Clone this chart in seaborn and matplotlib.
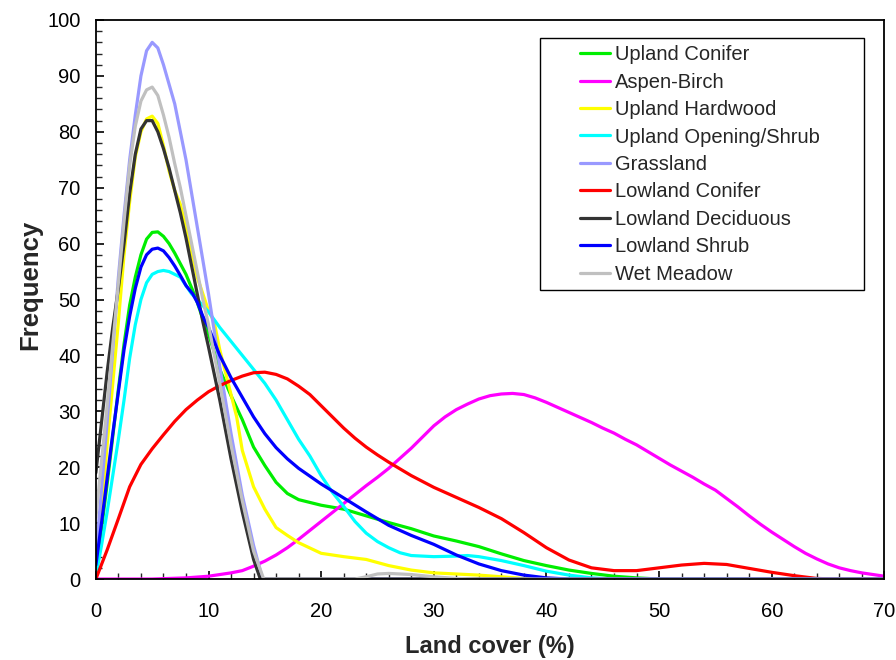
import numpy as np
import pandas as pd
import seaborn as sns
import matplotlib.pyplot as plt
from matplotlib.patches import Rectangle
from matplotlib.ticker import MultipleLocator

# Series (x = land cover %, y = frequency)
upland_conifer_x = [0, 0.5, 1, 1.5, 2, 2.5, 3, 3.5, 4, 4.5, 5, 5.5, 6, 6.5, 7, 8, 8.6, 9, 9.5, 10, 11, 12, 13, 14, 15, 16, 17, 18,
                    20, 22, 24, 26, 28, 30, 32, 34, 36, 38, 40, 42, 44, 46, 48, 50, 52, 70]
upland_conifer_y = [1, 9, 17, 25.5, 34, 42, 49, 54, 58, 60.8, 62, 62.1, 61.3, 60, 58.3, 54.5, 51.6, 49.5, 46.5, 43.8, 37.5, 32.8, 28.5, 23.6, 20.3, 17.3, 15.3, 14.2,
                    13.2, 12.5, 11.3, 10.1, 9, 7.7, 6.8, 5.8, 4.5, 3.3, 2.4, 1.6, 1.0, 0.5, 0.2, 0, 0, 0]

aspen_birch_x = [0, 5, 8, 10, 12, 13, 14, 15, 16, 17, 18, 19, 20, 21, 22, 23, 24, 25, 26, 27, 28, 29, 30, 31, 32, 33, 34, 35,
                 36, 37, 38, 39, 40, 41, 42, 43, 44, 45, 46, 47, 48, 49, 50, 51, 52, 53, 54, 55, 56, 57, 58, 59, 60, 61,
                 62, 63, 64, 65, 66, 67, 68, 69, 70]
aspen_birch_y = [0, 0, 0.2, 0.5, 1.1, 1.5, 2.3, 3.2, 4.3, 5.6, 7.1, 8.7, 10.3, 11.9, 13.5, 15.1, 16.7, 18.2, 19.8, 21.6, 23.4, 25.4, 27.4, 29, 30.3, 31.3, 32.2, 32.8,
                 33.1, 33.2, 33, 32.4, 31.6, 30.7, 29.8, 28.9, 28, 27, 26.1, 25, 24, 22.8, 21.6, 20.4, 19.3, 18.2, 17.0, 15.9, 14.4, 12.9, 11.3, 9.8, 8.4, 7.1,
                 5.8, 4.6, 3.6, 2.7, 2.0, 1.5, 1.1, 0.8, 0.5]

upland_hardwood_x = [0, 0.5, 1, 1.5, 2, 2.5, 3, 3.5, 4, 4.5, 5, 5.5, 6, 6.5, 7, 7.5, 8, 8.5, 9, 9.5, 10, 10.5, 11, 11.5, 12, 12.5, 13, 14,
                     15, 16, 17, 18, 20, 22, 24, 26, 28, 30, 32, 34, 36, 38, 40, 70]
upland_hardwood_y = [2, 12, 24, 35, 46, 58, 67.5, 75.5, 80, 82.3, 82.8, 81.5, 77.5, 73, 69.5, 67, 63, 58.5, 54, 51, 48, 46, 41, 37, 33, 29, 23, 16.5,
                     12.5, 9.2, 7.8, 6.5, 4.6, 4.0, 3.5, 2.4, 1.6, 1.1, 0.9, 0.7, 0.4, 0.1, 0, 0]

upland_opening_x = [0, 0.5, 1, 1.5, 2, 2.5, 3, 3.5, 4, 4.5, 5, 5.5, 6, 6.5, 7, 7.5, 8, 8.5, 9, 10, 11, 12, 13, 14, 15, 16, 17, 18,
                    19, 20, 21, 22, 23, 24, 25, 26, 27, 28, 30, 32, 33, 34, 36, 38, 40, 42, 44, 46, 70]
upland_opening_y = [0.5, 6, 12, 18.5, 25, 32, 39.5, 45.5, 50, 53, 54.5, 55, 55.2, 55, 54.5, 54, 52.5, 51, 50, 47.8, 45, 42.5, 40, 37.5, 35, 32, 28.5, 25,
                    22, 18.5, 15.5, 13, 10.3, 8.2, 6.7, 5.6, 4.7, 4.2, 4.0, 4.1, 4.2, 4.0, 3.3, 2.4, 1.4, 0.7, 0.2, 0, 0]

grassland_x = [0, 0.5, 1, 1.5, 2, 2.5, 3, 3.5, 4, 4.5, 5, 5.5, 6, 6.5, 7, 7.5, 8, 8.5, 9, 9.5, 10, 11, 12, 13, 14, 14.8, 70]
grassland_y = [4, 16, 28, 41, 54, 65, 75, 83, 90, 94.5, 96, 95, 92, 88.5, 85, 80, 75, 69, 63, 57, 51, 38, 26, 15, 6, 0, 0]

lowland_conifer_x = [0, 1, 2, 3, 4, 5, 6, 7, 8, 9, 10, 11, 12, 13, 14, 15, 16, 17, 18, 19, 20, 21, 22, 23, 24, 25, 26, 28,
                     30, 32, 34, 36, 38, 40, 42, 44, 46, 48, 50, 52, 54, 56, 58, 60, 62, 64, 66, 70]
lowland_conifer_y = [0, 5.2, 10.8, 16.5, 20.5, 23.3, 25.8, 28.2, 30.3, 32, 33.5, 34.6, 35.5, 36.3, 36.9, 37, 36.6, 35.8, 34.5, 33, 31, 29, 27, 25.2, 23.6, 22.2, 20.9, 18.5,
                     16.4, 14.6, 12.8, 10.8, 8.3, 5.6, 3.4, 2.0, 1.5, 1.5, 2.0, 2.5, 2.8, 2.6, 1.9, 1.2, 0.6, 0.1, 0, 0]

lowland_deciduous_x = [0, 0.5, 1, 1.5, 2, 2.5, 3, 3.5, 4, 4.5, 5, 5.5, 6, 6.5, 7, 7.5, 8, 8.5, 9, 9.5, 10, 11, 12, 13, 14, 14.6, 70]
lowland_deciduous_y = [19, 28, 37, 45, 52, 60, 69, 76, 80.5, 82, 82, 80, 77, 73.5, 69.5, 65.5, 61, 56, 51, 46, 41.5, 32, 21.5, 12, 3.5, 0, 0]

lowland_shrub_x = [0, 0.5, 1, 1.5, 2, 2.5, 3, 3.5, 4, 4.5, 5, 5.5, 6, 6.5, 7, 7.5, 8, 8.6, 9, 9.5, 10, 11, 12, 13, 14, 15, 16, 17,
                   18, 20, 22, 24, 26, 28, 30, 32, 34, 36, 38, 40, 42, 70]
lowland_shrub_y = [2.5, 10, 18, 26, 33.5, 41, 47, 52, 55.8, 58, 59, 59.2, 58.7, 57.5, 56, 54.3, 52.5, 51, 49.5, 47, 45, 40, 36, 32.5, 29, 26, 23.5, 21.5,
                   19.8, 17, 14.5, 12, 9.6, 7.8, 6.2, 4.3, 2.7, 1.5, 0.7, 0.2, 0, 0]

wet_meadow_x = [0, 0.5, 1, 1.5, 2, 2.5, 3, 3.5, 4, 4.5, 5, 5.5, 6, 6.5, 7, 7.5, 8, 8.5, 9, 9.5, 10, 11, 12, 13, 14, 14.9,
                23, 24, 25, 26, 28, 30, 32, 34, 70]
wet_meadow_y = [11, 21, 31, 42, 53, 64, 74, 81, 85.5, 87.5, 88, 86.5, 83, 79, 74.3, 70, 65, 60, 55, 50, 45.5, 35, 24, 14, 5, 0,
                0, 0.4, 0.9, 1.0, 0.8, 0.4, 0.1, 0, 0]

series_names = ['Upland Conifer', 'Aspen-Birch', 'Upland Hardwood', 'Upland Opening/Shrub', 'Grassland',
                'Lowland Conifer', 'Lowland Deciduous', 'Lowland Shrub', 'Wet Meadow']
series_x = [upland_conifer_x, aspen_birch_x, upland_hardwood_x, upland_opening_x, grassland_x,
            lowland_conifer_x, lowland_deciduous_x, lowland_shrub_x, wet_meadow_x]
series_y = [upland_conifer_y, aspen_birch_y, upland_hardwood_y, upland_opening_y, grassland_y,
            lowland_conifer_y, lowland_deciduous_y, lowland_shrub_y, wet_meadow_y]
colors = ['#00EE00', '#FF00FF', '#FFFF00', '#00FFFF', '#9999FF', '#FF0000', '#333333', '#0000FF', '#C0C0C0']

df = pd.concat([pd.DataFrame({'Land cover': x, 'Frequency': y, 'Type': n})
                for n, x, y in zip(series_names, series_x, series_y)], ignore_index=True)

sns.set_style('ticks')
plt.rcParams['font.family'] = ['Liberation Sans', 'DejaVu Sans']

fig = plt.figure(figsize=(8.96, 6.6), dpi=100)
ax = fig.add_axes([0.107, 0.1227, 0.88, 0.847])

sns.lineplot(data=df, x='Land cover', y='Frequency', hue='Type', hue_order=series_names,
             palette=dict(zip(series_names, colors)), linewidth=2.3, estimator=None,
             sort=True, ax=ax, legend=True)

ax.set_xlim(0, 70)
ax.set_ylim(0, 100)
ax.xaxis.set_major_locator(MultipleLocator(10))
ax.xaxis.set_minor_locator(MultipleLocator(2))
ax.yaxis.set_major_locator(MultipleLocator(10))
ax.yaxis.set_minor_locator(MultipleLocator(2))
ax.tick_params(which='major', direction='in', length=6, width=1.2, labelsize=14.5, colors='black')
ax.tick_params(axis='x', which='major', pad=16.5)
ax.tick_params(axis='y', which='major', pad=11)
ax.tick_params(which='minor', direction='in', length=4, width=1.0)
for s in ax.spines.values():
    s.set_visible(True)
    s.set_color('black')
    s.set_linewidth(1.3)

ax.set_xlabel('Land cover (%)', fontsize=17, fontweight='bold', labelpad=10)
ax.set_ylabel('Frequency', fontsize=18.5, fontweight='bold', labelpad=4)
ax.yaxis.set_label_coords(-0.068, 0.526)

handles, labels = ax.get_legend_handles_labels()
leg = ax.legend(handles, labels, loc='upper left', bbox_to_anchor=(0.614, 0.955), frameon=False,
                fontsize=14.5, handlelength=1.5, handletextpad=0.25, labelspacing=0.42, borderpad=0,
                borderaxespad=0)
for h in leg.get_lines():
    h.set_linewidth(2.3)
ax.add_patch(Rectangle((0.563, 0.517), 0.4116, 0.451, transform=ax.transAxes, fill=False,
                       edgecolor='black', linewidth=1.0, zorder=5))

plt.savefig('out.png', dpi=100)
